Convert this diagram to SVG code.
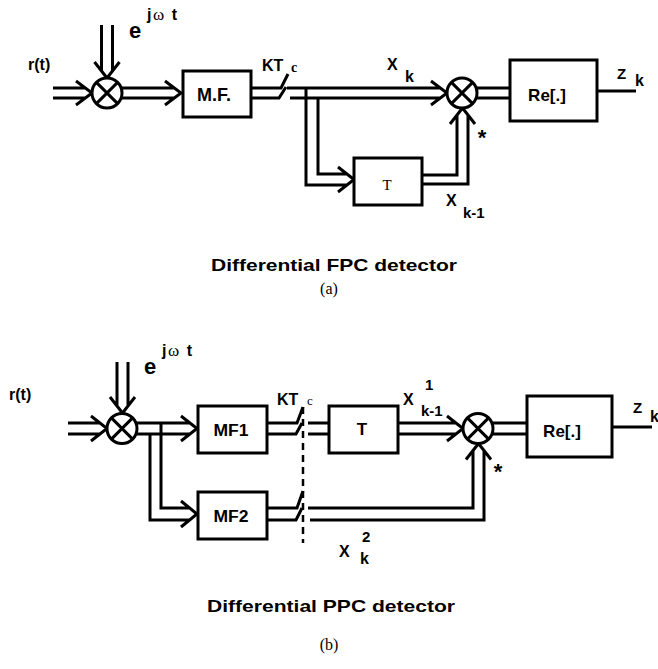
<svg xmlns="http://www.w3.org/2000/svg" width="658" height="669" viewBox="0 0 658 669">
<style>
.ln{fill:none;stroke:#000;stroke-width:3;stroke-linejoin:miter;stroke-linecap:butt}
.ds{fill:none;stroke:#000;stroke-width:2.5;stroke-dasharray:7 5}
.bx{fill:#fff;stroke:#000;stroke-width:3}
.mx{fill:#fff;stroke:#000;stroke-width:3}
.t{font-family:"Liberation Sans",Arial,Helvetica,sans-serif;font-weight:bold;fill:#000}
.s{font-family:"Liberation Serif","Times New Roman",serif;fill:#000}
.w{font-family:"Liberation Serif","Times New Roman",serif;font-weight:normal}
</style>
<rect width="658" height="669" fill="#fff"/>

<g id="connectors">
  <!-- (a) -->
  <path class="ln" d="M53,88 H85 M53,98 H85 M76,81 L92,93 L76,105"/>
  <path class="ln" d="M101.5,25 V71 M112.5,25 V71 M94.5,62 L107,78 L119.5,62"/>
  <path class="ln" d="M122,88 H174 M122,98 H174 M165,81 L181,93 L165,105"/>
  <path class="ln" d="M287,88 H440 M290,98 H440 M431,81 L447,93 L431,105"/>
  <path class="ln" d="M306,88 V185 H347 M318,98 V174 H347 M338,167 L354,179.5 L338,192"/>
  <path class="ln" d="M422,175 H457 V115 M422,184 H468 V115 M450,124 L462.5,108 L475,124"/>
  <path class="ln" d="M477,88 H510 M477,98 H510"/>
  <path class="ln" d="M597,91 H636"/>
  <!-- (b) -->
  <path class="ln" d="M68,423 H100 M68,434 H100 M91,416 L107,428.5 L91,441"/>
  <path class="ln" d="M117,362 V406 M128,362 V406 M110,397 L122.5,413 L135,397"/>
  <path class="ln" d="M137,423 H190 M137,434 H190 M181,416 L197,428.5 L181,441"/>
  <path class="ln" d="M161,423 V508 H190 M150,434 V520 H190 M181,501 L197,514 L181,527"/>
  <path class="ln" d="M308,423 H329 M308,434 H329"/>
  <path class="ln" d="M308,508 H473 V450 M310,520 H484 V450 M466,459.5 L478.5,443.5 L491,459.5"/>
  <path class="ln" d="M398,423 H456 M398,434 H456 M447,416 L463,428.5 L447,441"/>
  <path class="ln" d="M493,423 H527 M493,434 H527"/>
  <path class="ln" d="M612,427 H652"/>
  <path class="ds" d="M303,407 V543"/>
</g>

<!-- (a) nodes -->
<g id="mix1a">
  <circle class="mx" cx="107" cy="93" r="15"/>
  <path class="ln" d="M96.4,82.4 L117.6,103.6 M117.6,82.4 L96.4,103.6"/>
</g>
<g id="mf">
  <rect class="bx" x="183" y="71" width="68" height="46"/>
  <text class="t" x="214" y="101" font-size="18" text-anchor="middle">M.F.</text>
</g>
<g id="switch1a">
  <path class="ln" d="M251,88 H281 L288,74 M251,98 H279 L286,87"/>
</g>
<g id="delay1a">
  <rect class="bx" x="354" y="158" width="68" height="47"/>
  <text class="s" x="387" y="190" font-size="15" text-anchor="middle">T</text>
</g>
<g id="mix2a">
  <circle class="mx" cx="462" cy="93" r="15"/>
  <path class="ln" d="M451.4,82.4 L472.6,103.6 M472.6,82.4 L451.4,103.6"/>
</g>
<g id="re1a">
  <rect class="bx" x="510" y="60" width="87" height="61"/>
  <text class="t" x="547" y="101" font-size="17" text-anchor="middle">Re[.]</text>
</g>

<!-- (b) nodes -->
<g id="mix1b">
  <circle class="mx" cx="122" cy="428.5" r="15"/>
  <path class="ln" d="M111.4,417.9 L132.6,439.1 M132.6,417.9 L111.4,439.1"/>
</g>
<g id="mf1">
  <rect class="bx" x="198" y="406" width="69" height="47"/>
  <text class="t" x="231" y="436" font-size="16" text-anchor="middle" textLength="35" lengthAdjust="spacingAndGlyphs">MF1</text>
</g>
<g id="mf2">
  <rect class="bx" x="198" y="492" width="69" height="47"/>
  <text class="t" x="231" y="522" font-size="16" text-anchor="middle" textLength="35" lengthAdjust="spacingAndGlyphs">MF2</text>
</g>
<g id="switch1b">
  <path class="ln" d="M267,423 H297 L303,407 M267,434 H296 L302,423"/>
</g>
<g id="switch2b">
  <path class="ln" d="M267,508 H297 L303,491 M267,520 H296 L302,508"/>
</g>
<g id="delay1b">
  <rect class="bx" x="329" y="406" width="69" height="47"/>
  <text class="t" x="362" y="435" font-size="17" text-anchor="middle">T</text>
</g>
<g id="mix2b">
  <circle class="mx" cx="478" cy="428.5" r="15"/>
  <path class="ln" d="M467.4,417.9 L488.6,439.1 M488.6,417.9 L467.4,439.1"/>
</g>
<g id="re1b">
  <rect class="bx" x="527" y="396" width="85" height="61"/>
  <text class="t" x="562" y="437" font-size="17" text-anchor="middle">Re[.]</text>
</g>

<!-- labels (a) -->
<g id="labels-a">
  <text class="t" x="28" y="70" font-size="16">r(t)</text>
  <text class="t" x="129" y="38" font-size="22">e</text>
  <text class="t" x="147" y="20" font-size="16" textLength="30" lengthAdjust="spacing">j<tspan class="w" font-size="17">ω</tspan> t</text>
  <text class="t" x="262" y="71" font-size="16">KT</text>
  <text class="s" x="291" y="72" font-size="14" font-weight="bold">c</text>
  <text class="t" x="387" y="70" font-size="16">X</text>
  <text class="t" x="405" y="82" font-size="16">k</text>
  <text class="t" x="617" y="79" font-size="15">Z</text>
  <text class="t" x="635" y="86" font-size="16">k</text>
  <text class="t" x="482" y="145" font-size="22" text-anchor="middle">*</text>
  <text class="t" x="446" y="206" font-size="16">X</text>
  <text class="t" x="463" y="218" font-size="15">k-1</text>
  <text class="t" x="334" y="271" font-size="17" text-anchor="middle" textLength="246" lengthAdjust="spacingAndGlyphs">Differential FPC detector</text>
  <text class="s" x="329" y="294" font-size="16" text-anchor="middle">(a)</text>
</g>

<!-- labels (b) -->
<g id="labels-b">
  <text class="t" x="9" y="400" font-size="16">r(t)</text>
  <text class="t" x="144" y="374" font-size="22">e</text>
  <text class="t" x="162" y="356" font-size="16" textLength="30" lengthAdjust="spacing">j<tspan class="w" font-size="17">ω</tspan> t</text>
  <text class="t" x="277" y="405" font-size="16">KT</text>
  <text class="s" x="307" y="405" font-size="13">c</text>
  <text class="t" x="403" y="405" font-size="16">X</text>
  <text class="t" x="425" y="390" font-size="15">1</text>
  <text class="t" x="421" y="416" font-size="15">k-1</text>
  <text class="t" x="633" y="413" font-size="15">Z</text>
  <text class="t" x="650" y="422" font-size="16">k</text>
  <text class="t" x="498" y="479" font-size="22" text-anchor="middle">*</text>
  <text class="t" x="339" y="557" font-size="16">X</text>
  <text class="t" x="362" y="542" font-size="15">2</text>
  <text class="t" x="360" y="564" font-size="16">k</text>
  <text class="t" x="331" y="612" font-size="17" text-anchor="middle" textLength="248" lengthAdjust="spacingAndGlyphs">Differential PPC detector</text>
  <text class="s" x="329" y="650" font-size="16" text-anchor="middle">(b)</text>
</g>
</svg>
